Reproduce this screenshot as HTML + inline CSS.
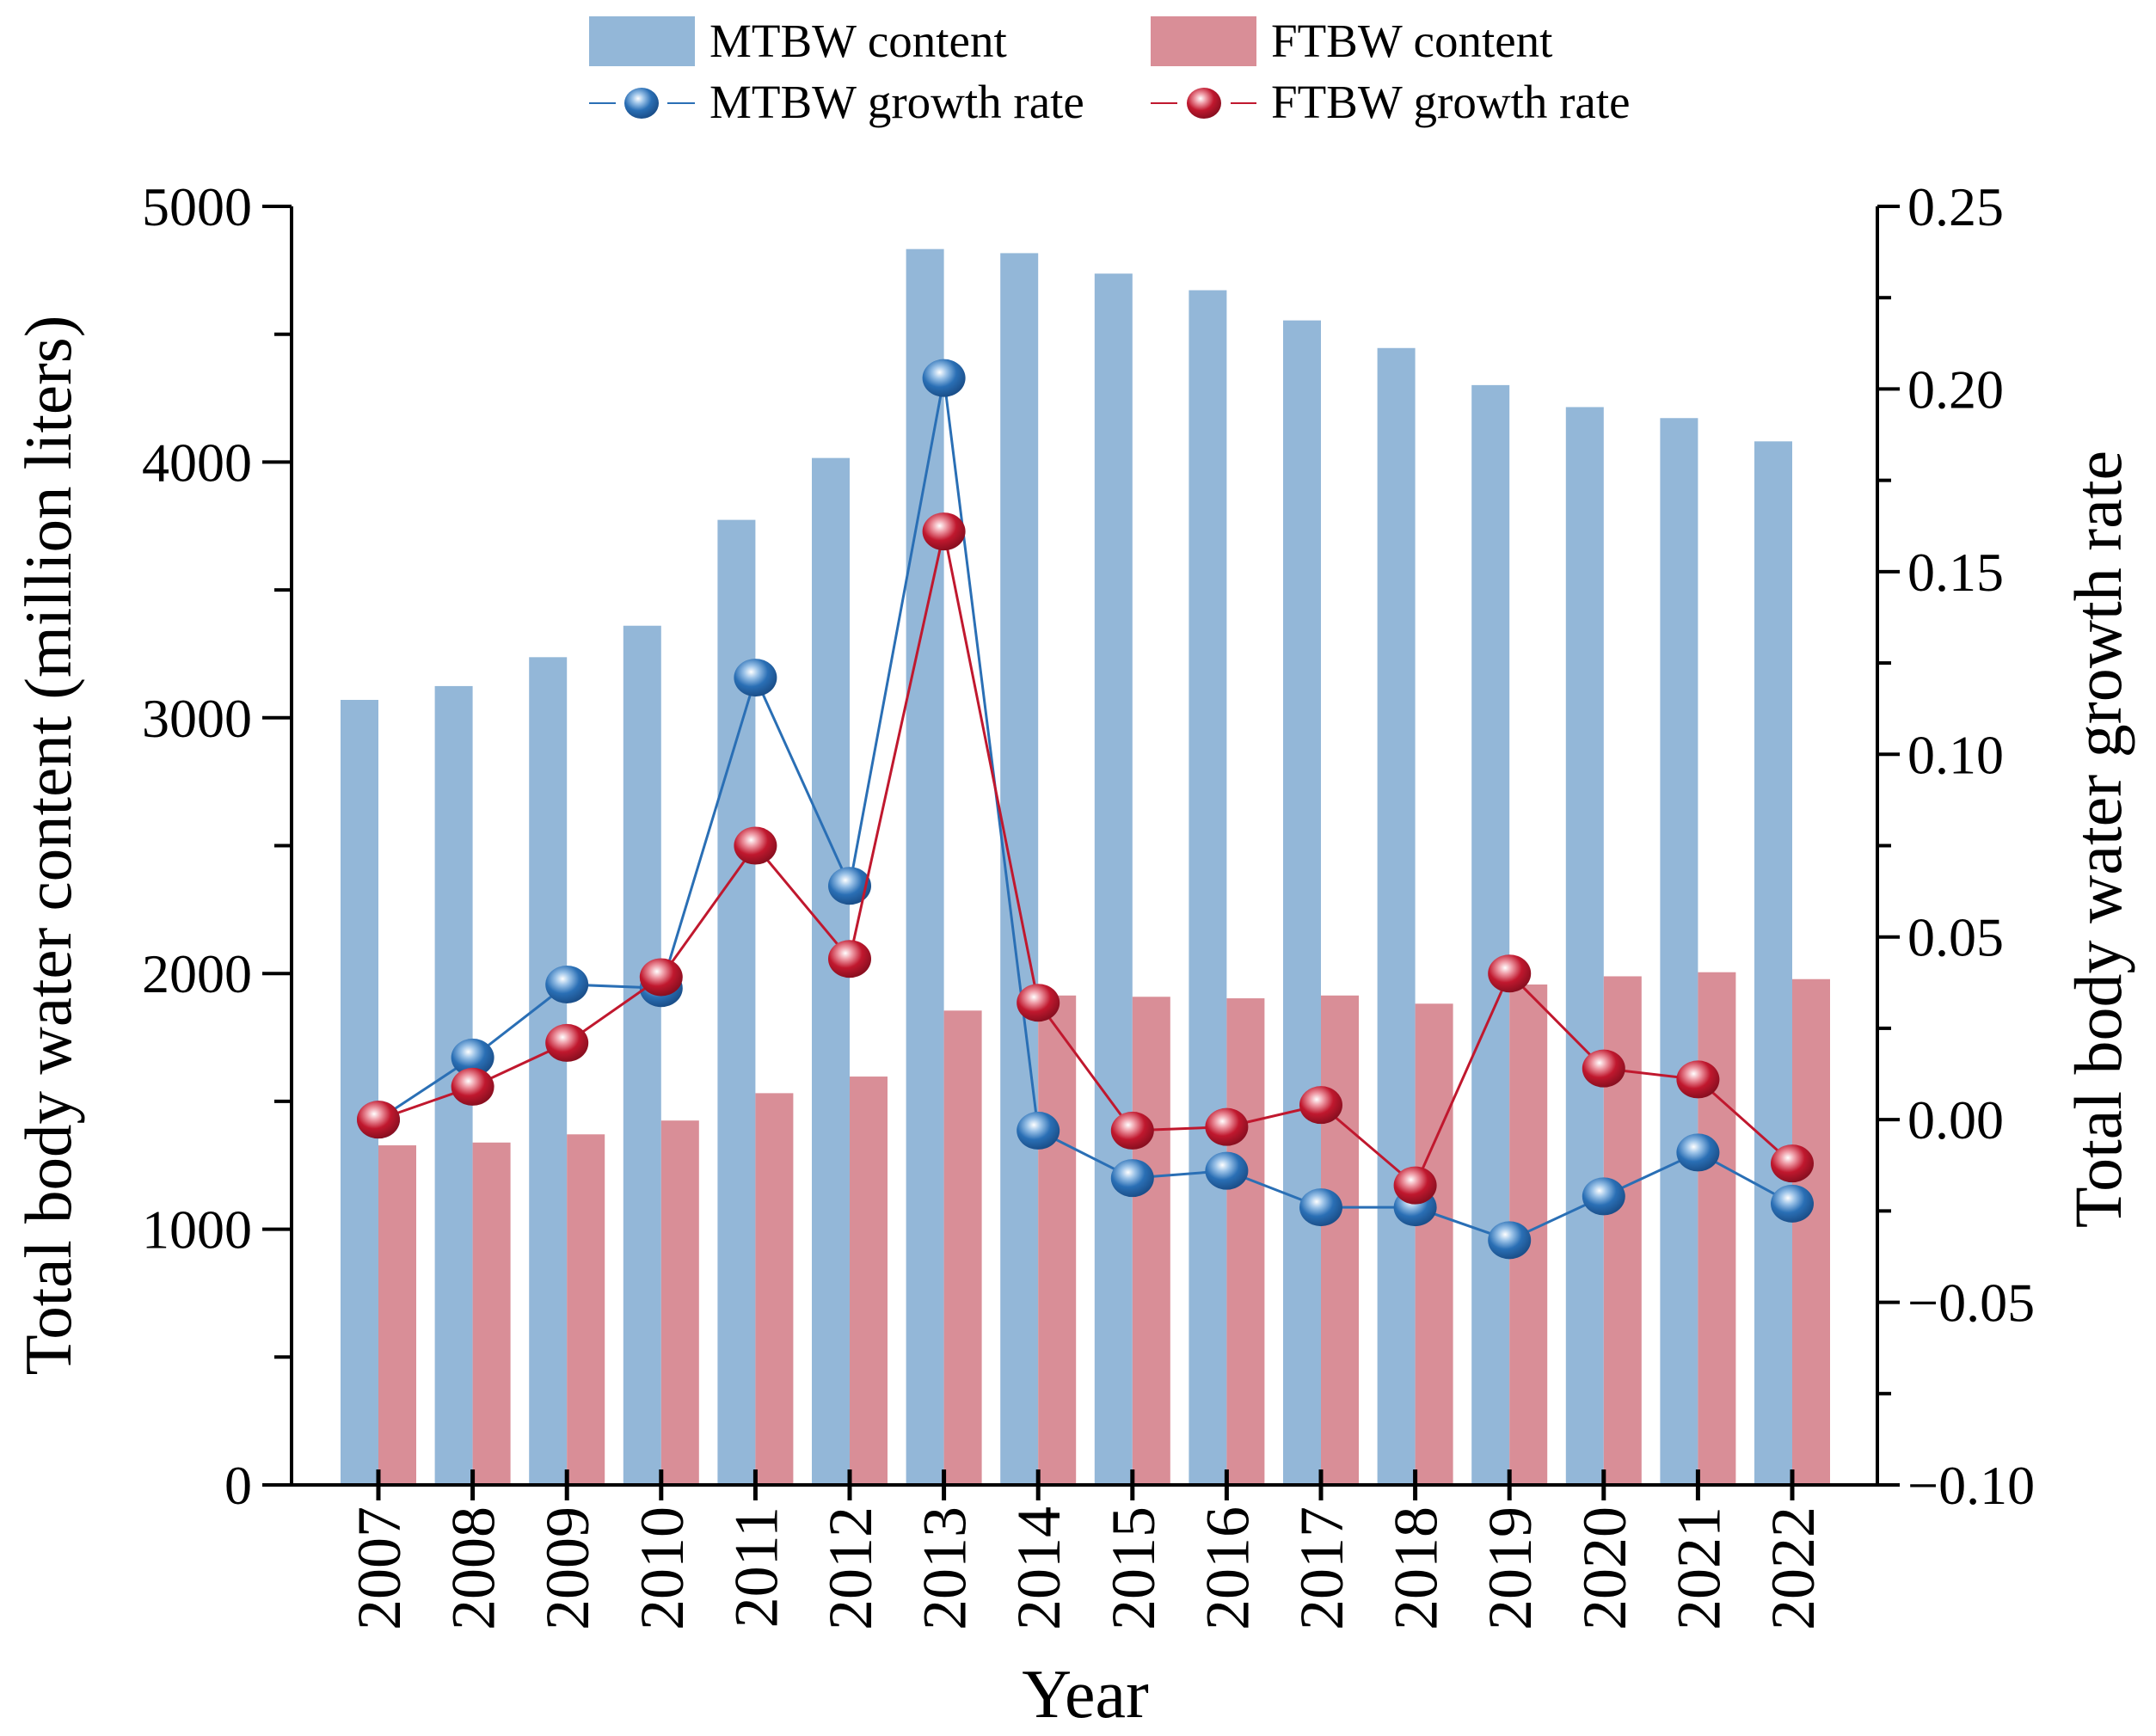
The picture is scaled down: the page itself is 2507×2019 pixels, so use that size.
<!DOCTYPE html>
<html><head><meta charset="utf-8"><style>
html,body{margin:0;padding:0;background:#fff;}
svg{display:block;font-family:"Liberation Serif",serif;}
</style></head><body>
<svg id="chart" width="2507" height="2019" viewBox="0 0 2507 2019" xmlns="http://www.w3.org/2000/svg">
<defs>
<radialGradient id="gb" cx="0.4" cy="0.35" r="0.65"><stop offset="0" stop-color="#ffffff"/><stop offset="0.25" stop-color="#9cc3e8"/><stop offset="0.6" stop-color="#2a6fb5"/><stop offset="1" stop-color="#1b4f8a"/></radialGradient>
<radialGradient id="gr" cx="0.4" cy="0.35" r="0.65"><stop offset="0" stop-color="#ffffff"/><stop offset="0.25" stop-color="#ee9aa5"/><stop offset="0.6" stop-color="#c0182e"/><stop offset="1" stop-color="#8a0f20"/></radialGradient>
</defs>
<g id="legend">
<rect x="685" y="19" width="123" height="58" fill="#93b7d8"/>
<text x="825" y="66" font-size="55">MTBW content</text>
<rect x="1338" y="19" width="123" height="58" fill="#d98e97"/>
<text x="1478" y="66" font-size="55">FTBW content</text>
<line x1="685" y1="120" x2="716" y2="120" stroke="#2a6fb5" stroke-width="2"/>
<line x1="776" y1="120" x2="808" y2="120" stroke="#2a6fb5" stroke-width="2"/>
<ellipse cx="746" cy="120" rx="20" ry="18" fill="url(#gb)"/>
<text x="825" y="137" font-size="55">MTBW growth rate</text>
<line x1="1338" y1="120" x2="1369" y2="120" stroke="#c0182e" stroke-width="2"/>
<line x1="1431" y1="120" x2="1461" y2="120" stroke="#c0182e" stroke-width="2"/>
<ellipse cx="1400" cy="120" rx="20" ry="18" fill="url(#gr)"/>
<text x="1478" y="137" font-size="55">FTBW growth rate</text>
</g>
<g id="bars"></g><g id="lines"></g><g id="axes"></g>
<text transform="translate(82,983) rotate(-90)" text-anchor="middle" font-size="77">Total body water content (million liters)</text>
<text transform="translate(2466,976) rotate(-90)" text-anchor="middle" font-size="78">Total body water growth rate</text>
<text x="1262" y="1997" text-anchor="middle" font-size="80">Year</text>
</svg>
<script>
const years=["2007","2008","2009","2010","2011","2012","2013","2014","2015","2016","2017","2018","2019","2020","2021","2022"];
const mtbwContent=[3070,3124,3237,3360,3774,4016,4833,4817,4737,4672,4554,4446,4301,4215,4172,4081];
const ftbwContent=[1328,1339,1371,1425,1532,1597,1855,1914,1909,1903,1914,1882,1957,1989,2005,1978];
const mtbwGrowth=[0,0.017,0.037,0.036,0.121,0.064,0.203,-0.003,-0.016,-0.014,-0.024,-0.024,-0.033,-0.021,-0.009,-0.023];
const ftbwGrowth=[0,0.009,0.021,0.039,0.075,0.044,0.161,0.032,-0.003,-0.002,0.004,-0.018,0.040,0.014,0.011,-0.012];
const leftTicks=[0,1000,2000,3000,4000,5000];
const rightTicks=[-0.10,-0.05,0.00,0.05,0.10,0.15,0.20,0.25];
const NS="http://www.w3.org/2000/svg";
const L=339,R=2183,T=240,B=1727;
const x0=440,dx=109.6,bw=44;
const xs=i=>x0+i*dx;
const yL=v=>B-(v/5000)*(B-T);
const yR=v=>B-((v+0.10)/0.35)*(B-T);
function mk(tag,attrs,parent){const e=document.createElementNS(NS,tag);for(const k in attrs)e.setAttribute(k,attrs[k]);parent.appendChild(e);return e;}
const bars=document.getElementById('bars'),lines=document.getElementById('lines'),axes=document.getElementById('axes');
years.forEach((y,i)=>{
 let r=mk('rect',{x:xs(i)-bw,y:yL(mtbwContent[i]),width:bw,height:B-yL(mtbwContent[i]),fill:'#93b7d8'},bars);
 
 
 let f=mk('rect',{x:xs(i),y:yL(ftbwContent[i]),width:bw,height:B-yL(ftbwContent[i]),fill:'#d98e97'},bars);
 
 
});
function series(vals,color,grad,name){
 const p=mk('polyline',{points:vals.map((v,i)=>xs(i)+','+yR(v)).join(' '),fill:'none',stroke:color,'stroke-width':3},lines);
 
 
 vals.forEach((v,i)=>{
  const c=mk('ellipse',{cx:xs(i),cy:yR(v),rx:25,ry:22,fill:'url(#'+grad+')'},lines);
  
  
 });
}
series(mtbwGrowth,'#2a6fb5','gb','mtbw-growth');
series(ftbwGrowth,'#c0182e','gr','ftbw-growth');
const ax=mk('path',{d:`M${L},${T} L${L},${B} L${R},${B} L${R},${T}`,fill:'none',stroke:'#000','stroke-width':4},axes);


for(let v=0;v<=5000;v+=500){mk('line',{x1:L-(v%1000===0?34:20),x2:L,y1:yL(v),y2:yL(v),stroke:'#000','stroke-width':4},axes);}
leftTicks.forEach(v=>{const t=mk('text',{x:293,y:yL(v)+22,'text-anchor':'end','font-size':64},axes);t.textContent=v;
 
 });
for(let k=0;k<=14;k++){const v=-0.10+k*0.025;mk('line',{x1:R,x2:R+(k%2===0?26:16),y1:yR(v),y2:yR(v),stroke:'#000','stroke-width':4},axes);}
rightTicks.forEach(v=>{const t=mk('text',{x:2218,y:yR(v)+22,'font-size':64},axes);t.textContent=(v<0?'\u2212':'')+Math.abs(v).toFixed(2);
 
 });
years.forEach((y,i)=>{mk('line',{x1:xs(i),x2:xs(i),y1:B-18,y2:B+18,stroke:'#000','stroke-width':5},axes);
 const t=mk('text',{transform:`translate(${xs(i)+25},1752) rotate(-90)`,'text-anchor':'end','font-size':72},axes);t.textContent=y;
 
 });
</script>
</body></html>
